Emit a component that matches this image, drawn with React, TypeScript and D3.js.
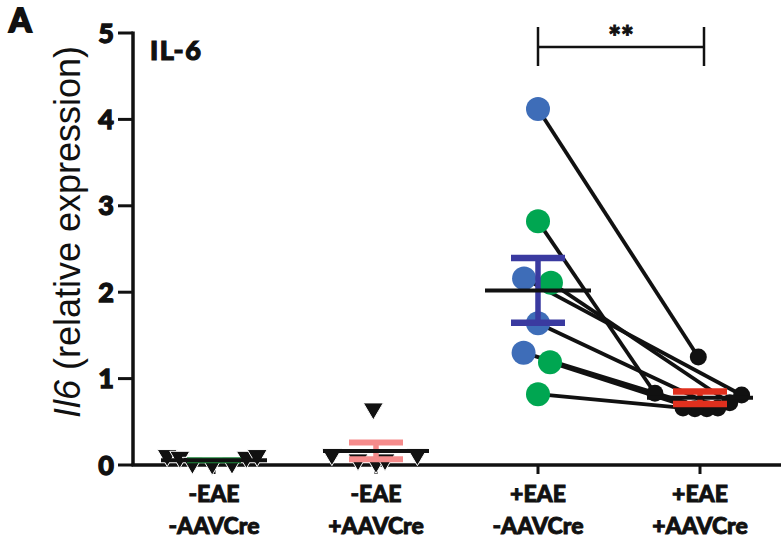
import React from "react";
import * as d3 from "d3";

// Groups on the x axis (two label lines each)
const groupTop = ["-EAE", "-EAE", "+EAE", "+EAE"];
const groupBottom = ["-AAVCre", "+AAVCre", "-AAVCre", "+AAVCre"];
const groupKeys = ["nn", "np", "pn", "pp"];

const yTicks = [0, 1, 2, 3, 4, 5];

// Il6 relative expression per animal
const g1Values = [0.1, 0.08, 0.01, 0.0, 0.01, 0.08, 0.1];
const g2Values = [0.11, 0.05, 0.02, 0.64, 0.05, 0.11];
const g3Values = [4.12, 2.82, 2.16, 2.11, 1.64, 1.3, 1.19, 0.82];
const g3Cohort = ["b", "g", "b", "g", "b", "b", "g", "g"];
const g4Values = [1.25, 0.83, 0.81, 0.72, 0.66, 0.65, 0.65, 0.66];

// horizontal scatter of each point, in marker widths
const g1Spread = [-2.6, -1.9, -1.2, -0.1, 1.0, 1.8, 2.4];
const g2Spread = [-2.45, -1.0, 0, -0.15, 0.5, 2.3];
const g3Spread = [0, 0, -0.58, 0.54, 0, -0.6, 0.5, 0];
const g4Spread = [-0.1, -2.65, 2.45, 1.75, 1.05, 0.4, -0.3, -1.0];

const W = 784;
const H = 544;

const BOLD = "Lato, 'Open Sans', sans-serif";
// heavier strokes for the bold labels
const heavy = { stroke: "#111", strokeWidth: 0.9, paintOrder: "stroke" as const };

const x = d3.scalePoint<string>().domain(groupKeys).range([133, 781]).padding(0.5);
const y = d3.scaleLinear().domain([0, 5]).range([465, 33]);

function stats(v: number[]) {
  const m = d3.mean(v) as number;
  const sem = (d3.deviation(v) as number) / Math.sqrt(v.length);
  return { m, sem };
}

function tri(cx: number, cy: number, w = 20, h = 17) {
  const p = d3.path();
  p.moveTo(cx - w / 2, cy - h * 0.4);
  p.lineTo(cx + w / 2, cy - h * 0.4);
  p.lineTo(cx, cy + h * 0.6);
  p.closePath();
  return p.toString();
}

function MeanSem({
  key2,
  values,
  color,
  capW,
}: {
  key2: string;
  values: number[];
  color: string;
  capW: number;
}) {
  const cx = x(key2) as number;
  const { m, sem } = stats(values);
  return (
    <g>
      <line x1={cx} x2={cx} y1={y(m + sem)} y2={y(m - sem)} stroke={color} strokeWidth={5.5} />
      <line x1={cx - 27} x2={cx + 27} y1={y(m + sem)} y2={y(m + sem)} stroke={color} strokeWidth={capW} />
      <line x1={cx - 27} x2={cx + 27} y1={y(m - sem)} y2={y(m - sem)} stroke={color} strokeWidth={capW} />
      <line x1={cx - 53} x2={cx + 53} y1={y(m)} y2={y(m)} stroke="#111" strokeWidth={4} />
    </g>
  );
}

export default function App() {
  const c1 = x("nn") as number;
  const c2 = x("np") as number;
  const c3 = x("pn") as number;
  const c4 = x("pp") as number;
  const triW = 18;
  const dotD = 24;
  const blkD = 17;
  const blue = "#3e6db8";
  const green = "#00a651";

  const p3 = g3Values.map((v, i) => ({ x: c3 + g3Spread[i] * dotD, y: y(v), c: g3Cohort[i] }));
  const p4 = g4Values.map((v, i) => ({ x: c4 + g4Spread[i] * blkD, y: y(v) }));

  return (
    <svg
      width={W}
      height={H}
      viewBox={`0 0 ${W} ${H}`}
      style={{ position: "absolute", left: 0, top: 0, display: "block", background: "#fff" }}
    >
      <rect width={W} height={H} fill="#fff" />

      {/* panel letter and title */}
      <text x={9} y={32} fontFamily={BOLD} fontWeight={900} fontSize={32} fill="#111" {...heavy} strokeWidth={1.8}>
        A
      </text>
      <text x={150} y={60} fontFamily={BOLD} fontWeight={900} fontSize={27} letterSpacing={1.5} fill="#111" {...heavy} strokeWidth={1.2}>
        IL-6
      </text>

      {/* y axis */}
      <line x1={133} x2={133} y1={y(5) - 1.5} y2={y(0)} stroke="#111" strokeWidth={3.5} />
      {yTicks.map((t) => (
        <g key={t}>
          <line x1={118} x2={133} y1={y(t)} y2={y(t)} stroke="#111" strokeWidth={3} />
          <text
            x={114}
            y={y(t) + 9.5}
            textAnchor="end"
            fontFamily={BOLD}
            fontWeight={900}
            fontSize={27}
            fill="#111"
            {...heavy}
            strokeWidth={1.3}
          >
            {t}
          </text>
        </g>
      ))}
      <text
        transform={`translate(80,232) rotate(-90)`}
        textAnchor="middle"
        fontFamily="'Liberation Sans', Arial, sans-serif"
        fontSize={36}
        fill="#111"
      >
        <tspan fontStyle="italic">Il6</tspan> (relative expression)
      </text>

      {/* x axis */}
      <line x1={131.5} x2={781} y1={y(0)} y2={y(0)} stroke="#111" strokeWidth={3.5} />
      {groupKeys.map((k, i) => (
        <g key={k}>
          <line x1={x(k)} x2={x(k)} y1={y(0)} y2={y(0) + 9} stroke="#111" strokeWidth={3} />
          <text x={x(k)} y={502} textAnchor="middle" fontFamily={BOLD} fontWeight={900} fontSize={23} fill="#111" {...heavy}>
            {groupTop[i]}
          </text>
          <text x={x(k)} y={534} textAnchor="middle" fontFamily={BOLD} fontWeight={900} fontSize={23} fill="#111" {...heavy}>
            {groupBottom[i]}
          </text>
        </g>
      ))}

      {/* group 1 */}
      {g1Values.map((v, i) => (
        <path key={i} d={tri(c1 + g1Spread[i] * triW, y(v))} fill="#111" stroke="#fff" strokeWidth={1} />
      ))}
      <MeanSem key2="nn" values={g1Values} color="#1f8a3c" capW={3} />

      {/* group 2 */}
      {g2Values.map((v, i) => (
        <path key={i} d={tri(c2 + g2Spread[i] * triW, y(v))} fill="#111" stroke="#fff" strokeWidth={1} />
      ))}
      <MeanSem key2="np" values={g2Values} color="#f58b8b" capW={6} />

      {/* paired lines between +EAE groups */}
      {p3.map((a, i) => (
        <line key={i} x1={a.x} y1={a.y} x2={p4[i].x} y2={p4[i].y} stroke="#111" strokeWidth={3.8} />
      ))}

      {/* group 3 */}
      {p3.map((p, i) => (
        <circle key={i} cx={p.x} cy={p.y} r={dotD / 2} fill={p.c === "b" ? blue : green} />
      ))}
      <MeanSem key2="pn" values={g3Values} color="#3a3aa0" capW={6.5} />

      {/* group 4 */}
      {p4.map((p, i) => (
        <circle key={i} cx={p.x} cy={p.y} r={blkD / 2} fill="#111" />
      ))}
      <MeanSem key2="pp" values={g4Values} color="#e0301e" capW={6.5} />

      {/* significance bracket */}
      <g stroke="#111" strokeWidth={2.5}>
        <line x1={c3} x2={c4 + 4} y1={47} y2={47} />
        <line x1={c3} x2={c3} y1={27} y2={66} />
        <line x1={c4 + 4} x2={c4 + 4} y1={27} y2={66} />
      </g>
      <text x={(c3 + c4 + 4) / 2} y={48} textAnchor="middle" fontFamily={BOLD} fontWeight={900} fontSize={30} fill="#111" {...heavy}>
        **
      </text>
    </svg>
  );
}
